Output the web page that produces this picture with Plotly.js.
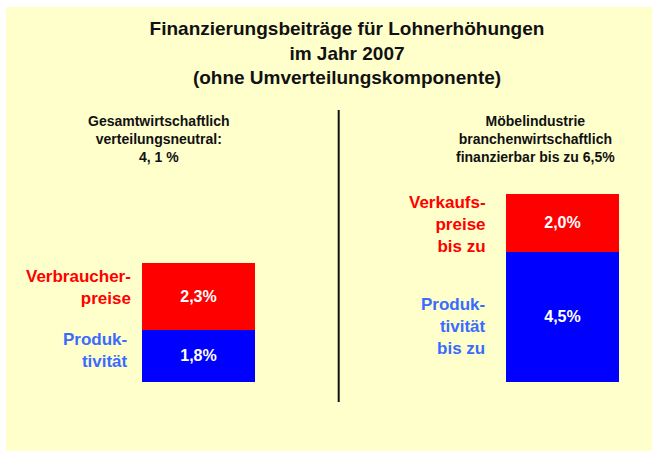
<!DOCTYPE html>
<html>
<head>
<meta charset="utf-8">
<script src="https://cdn.plot.ly/plotly-3.0.1.min.js"></script>
<style>html,body{margin:0;padding:0;background:#fff;}#chart{width:652px;height:451px;}</style>
</head>
<body>
<div id="chart"></div>
<script>
// ---- data ----
const categories = ['Gesamtwirtschaft', 'Möbelindustrie'];
const productivity = [1.8, 4.5];
const prices = [2.3, 2.0];
const productivityLabels = ['Produk-<br>tivität', 'Produk-<br>tivität<br>bis zu'];
const priceLabels = ['Verbraucher-<br>preise', 'Verkaufs-<br>preise<br>bis zu'];
const groupHeaders = ['Gesamtwirtschaftlich<br>verteilungsneutral:<br>4, 1 %',
                      'Möbelindustrie<br>branchenwirtschaftlich<br>finanzierbar bis zu 6,5%'];
const titleText = 'Finanzierungsbeiträge für Lohnerhöhungen<br>im Jahr 2007<br>(ohne Umverteilungskomponente)';

// ---- layout helpers ----
const W = 652, H = 451, ML = 6, MT = 7;
const px = x => (x - ML) / (W - ML);
const py = y => (H - y) / (H - MT);
const FONT = '"Liberation Sans", Arial, sans-serif';
const RED = '#FF0000', BLUE = '#0000FF', LBLUE = '#3A6BFF';

const barText = {color: '#FFFFFF', size: 16, family: FONT, weight: 'bold'};
const traces = [
  {type: 'bar', x: categories, y: productivity, marker: {color: BLUE}, width: 0.3104,
   texttemplate: '%{y:.1f}%', textposition: 'inside', insidetextanchor: 'middle',
   textfont: barText, hoverinfo: 'skip', showlegend: false, cliponaxis: false},
  {type: 'bar', x: categories, y: prices, marker: {color: RED}, width: 0.3104,
   texttemplate: '%{y:.1f}%', textposition: 'inside', insidetextanchor: 'middle',
   textfont: barText, hoverinfo: 'skip', showlegend: false, cliponaxis: false}
];

const labelFont = (c) => ({family: FONT, size: 17, color: c, weight: 'bold'});
const headFont = {family: FONT, size: 14, color: '#111111', weight: 'bold'};
const annotations = [
  {text: groupHeaders[0], xref: 'paper', yref: 'paper', x: px(158.5), y: py(138.5), xanchor: 'center', yanchor: 'middle', showarrow: false, font: headFont, align: 'center'},
  {text: groupHeaders[1], xref: 'paper', yref: 'paper', x: px(535), y: py(139), xanchor: 'center', yanchor: 'middle', showarrow: false, font: headFont, align: 'center'},
  {text: priceLabels[0], xref: 'paper', yref: 'paper', x: px(133), y: py(287), xanchor: 'right', yanchor: 'middle', showarrow: false, font: labelFont(RED), align: 'right'},
  {text: productivityLabels[0], xref: 'paper', yref: 'paper', x: px(130), y: py(350), xanchor: 'right', yanchor: 'middle', showarrow: false, font: labelFont(LBLUE), align: 'right'},
  {text: priceLabels[1], xref: 'paper', yref: 'paper', x: px(488), y: py(224), xanchor: 'right', yanchor: 'middle', showarrow: false, font: labelFont(RED), align: 'right'},
  {text: productivityLabels[1], xref: 'paper', yref: 'paper', x: px(488), y: py(326), xanchor: 'right', yanchor: 'middle', showarrow: false, font: labelFont(LBLUE), align: 'right'}
];

const layout = {
  width: W, height: H,
  margin: {l: ML, r: 0, t: MT, b: 0, pad: 0},
  paper_bgcolor: '#FFFFFF', plot_bgcolor: '#FFFFCC',
  separators: ',.',
  barmode: 'stack', bargap: 0,
  font: {family: FONT},
  title: {text: titleText, font: {family: FONT, size: 19, color: '#111111', weight: 'bold'},
          xref: 'container', yref: 'container', x: 347 / W, xanchor: 'center', y: 1 - 35 / H, yanchor: 'middle'},
  xaxis: {type: 'category', range: [-0.5288, 1.2459], visible: false, fixedrange: true},
  yaxis: {range: [-2.3793, 12.931], visible: false, fixedrange: true},
  shapes: [
    {type: 'line', xref: 'paper', yref: 'paper', x0: px(338.7), x1: px(338.7), y0: py(110), y1: py(402),
     line: {color: '#111111', width: 2}}
  ],
  annotations: annotations
};

Plotly.newPlot('chart', traces, layout, {displayModeBar: false, staticPlot: true});
</script>
</body>
</html>
